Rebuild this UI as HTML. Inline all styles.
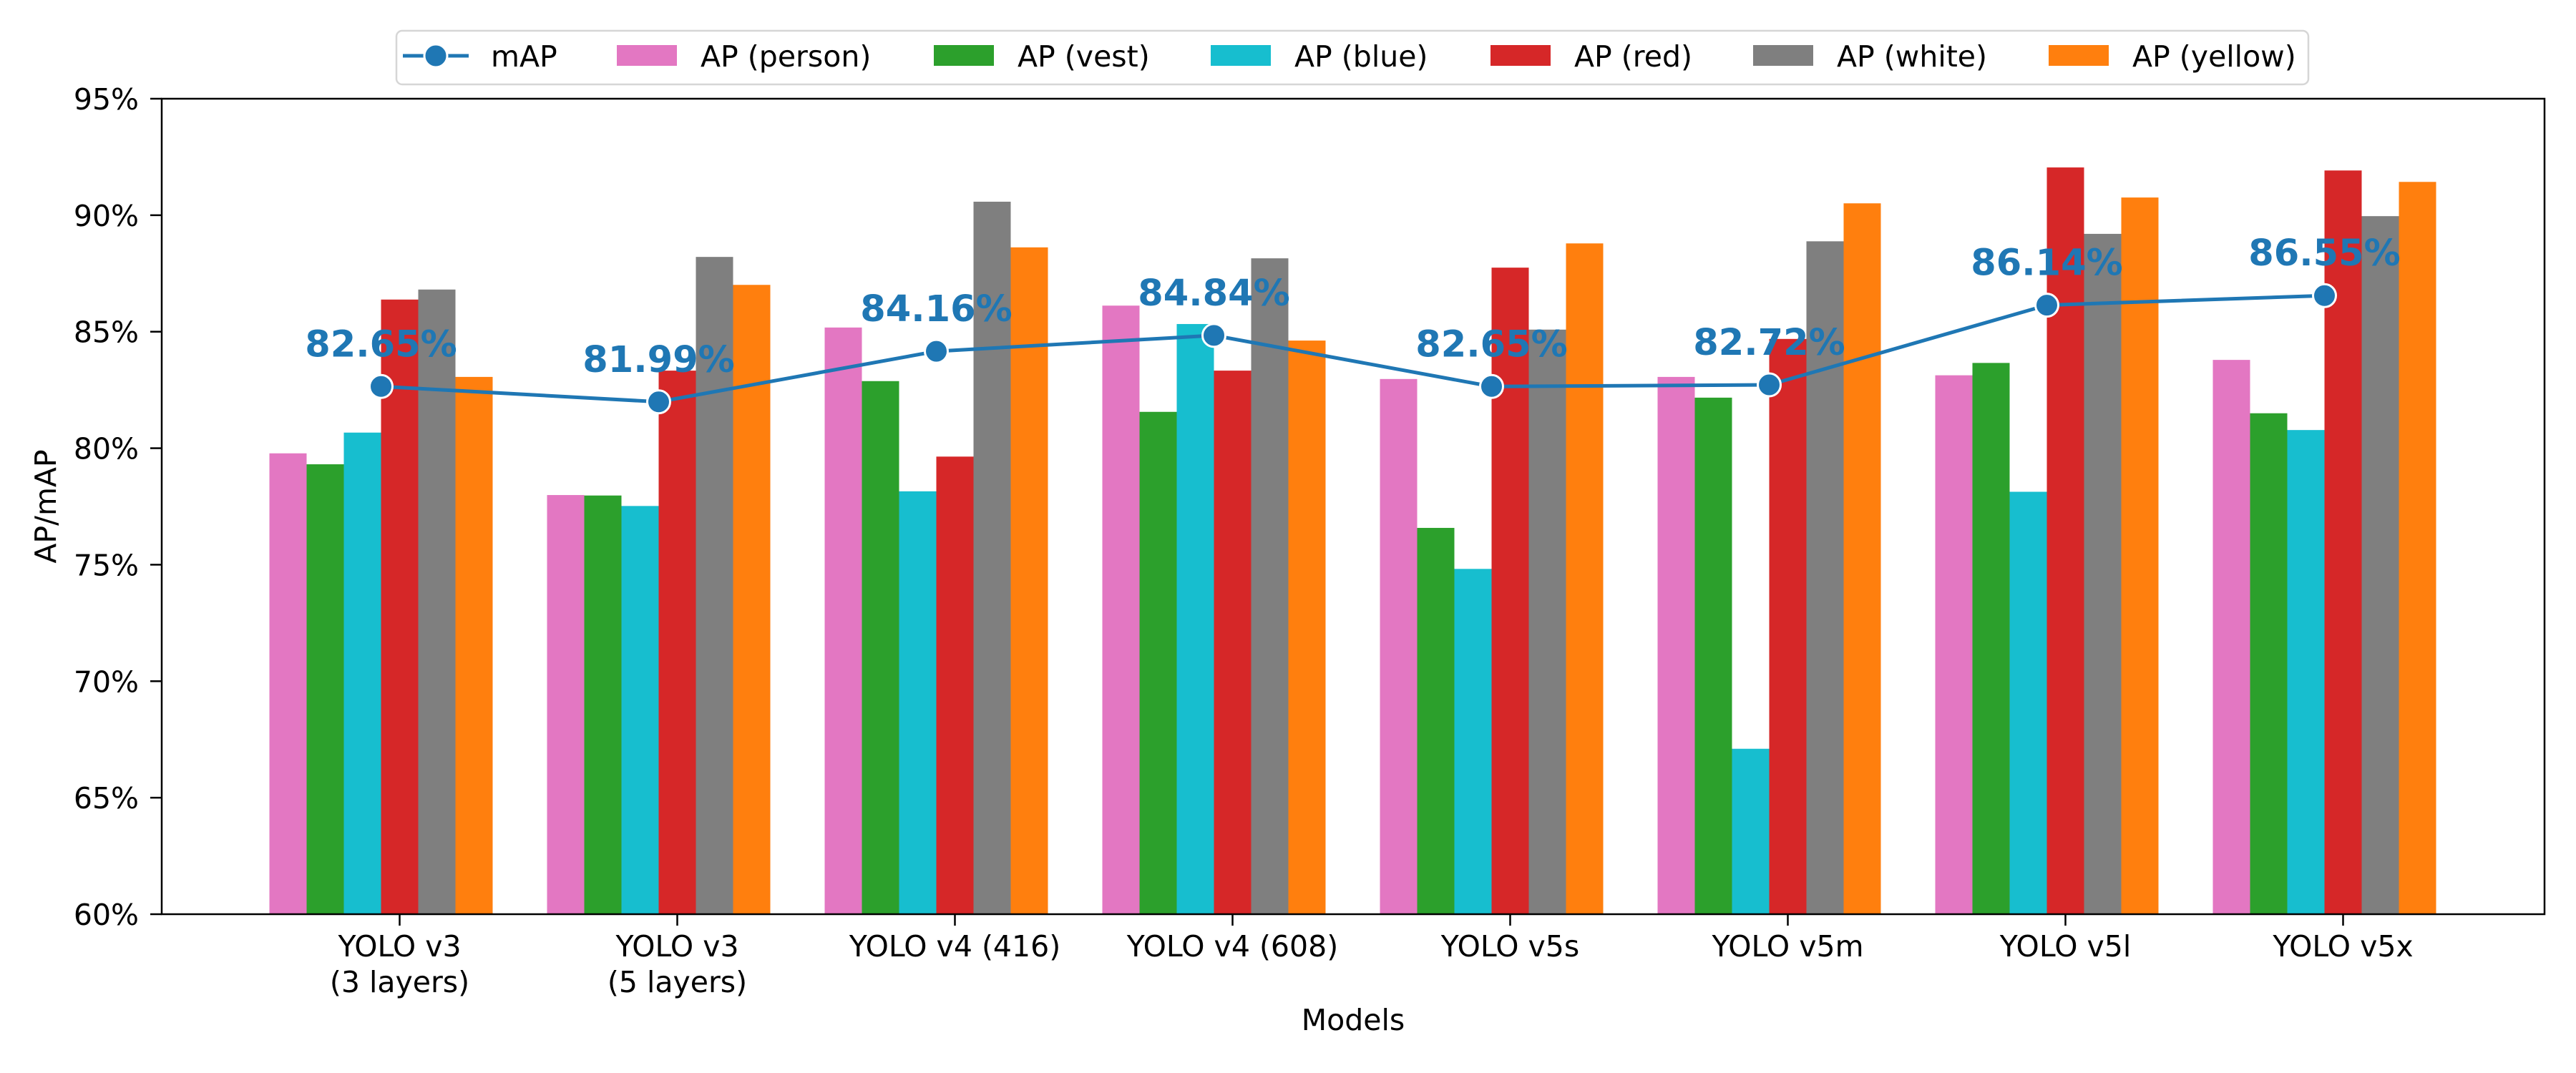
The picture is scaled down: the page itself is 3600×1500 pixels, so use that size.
<!DOCTYPE html>
<html><head><meta charset="utf-8"><style>
html,body{margin:0;padding:0;background:#fff;}
svg{display:block;font-family:"DejaVu Sans","Liberation Sans",sans-serif;}
</style></head><body>
<svg id="chart" width="3600" height="1500" viewBox="0 0 3600 1500" xmlns="http://www.w3.org/2000/svg">
<rect width="3600" height="1500" fill="#fff"/>
<g id="bars"></g>
<g id="line"></g>
<rect x="226" y="138" width="3330" height="1140" fill="none" stroke="#000" stroke-width="2.5"/>
<g id="yaxis"></g>
<g id="xaxis"></g>
<text x="78" y="708" font-size="41" text-anchor="middle" transform="rotate(-90 78 708)">AP/mAP</text>
<text x="1891" y="1440" font-size="41" text-anchor="middle">Models</text>
<g id="legend">
<rect x="554" y="43" width="2672" height="75" rx="8" fill="#fff" stroke="#d6d6d6" stroke-width="2.5"/>
</g>
</svg>
<script>
const categories = [["YOLO v3","(3 layers)"],["YOLO v3","(5 layers)"],["YOLO v4 (416)"],["YOLO v4 (608)"],["YOLO v5s"],["YOLO v5m"],["YOLO v5l"],["YOLO v5x"]];
const seriesNames = ["AP (person)","AP (vest)","AP (blue)","AP (red)","AP (white)","AP (yellow)"];
const seriesColors = ["#e377c2","#2ca02c","#17becf","#d62728","#7f7f7f","#ff7f0e"];
const apPerson = [79.78,77.99,85.18,86.12,82.97,83.06,83.13,83.79];
const apVest   = [79.31,77.97,82.88,81.56,76.58,82.17,83.66,81.50];
const apBlue   = [80.67,77.52,78.15,85.33,74.82,67.10,78.13,80.78];
const apRed    = [86.38,83.33,79.64,83.33,87.75,84.69,92.05,91.92];
const apWhite  = [86.81,88.21,90.58,88.15,85.09,88.88,89.20,89.96];
const apYellow = [83.06,87.01,88.62,84.62,88.79,90.51,90.76,91.43];
const mAP      = [82.65,81.99,84.16,84.84,82.65,82.72,86.14,86.55];
const yTicks   = [60,65,70,75,80,85,90,95];

const NS="http://www.w3.org/2000/svg";
function mk(tag,attrs,parent,text){const e=document.createElementNS(NS,tag);for(const k in attrs)e.setAttribute(k,attrs[k]);if(text!==undefined)e.textContent=text;parent.appendChild(e);return e;}
const PL=226,PR=3556,PT=138,PB=1278,YMIN=60,YMAX=95;
function yScale(v){return PB-(v-YMIN)/(YMAX-YMIN)*(PB-PT);}
const SP=388, X0=558.5, BW=52;
function xScale(i){return X0+i*SP;}

const series=[apPerson,apVest,apBlue,apRed,apWhite,apYellow];
const gb=document.getElementById('bars');
series.forEach((vals,s)=>{
  vals.forEach((v,i)=>{
    const x=xScale(i)+(s-3.5)*BW;
    const r=mk('rect',{x:x,y:yScale(v),width:BW,height:PB-yScale(v),fill:seriesColors[s]},gb);
    
    
  });
});

const gl=document.getElementById('line');
const pts=mAP.map((v,i)=>[xScale(i)-BW/2,yScale(v)]);
const pl=mk('polyline',{points:pts.map(p=>p.join(',')).join(' '),fill:'none',stroke:'#1f77b4','stroke-width':5},gl);


pts.forEach((p,i)=>{
  const c=mk('circle',{cx:p[0],cy:p[1],r:16,fill:'#1f77b4',stroke:'#fff','stroke-width':3},gl);
  
  
  const t=mk('text',{x:p[0],y:p[1]-42,'font-size':51,'font-weight':'bold',fill:'#1f77b4','text-anchor':'middle'},gl,mAP[i].toFixed(2)+'%');
  
  
});

const gy=document.getElementById('yaxis');
yTicks.forEach(v=>{
  const y=yScale(v);
  const l=mk('line',{x1:210,x2:226,y1:y,y2:y,stroke:'#000','stroke-width':2.5},gy);
  
  
  const t=mk('text',{x:194,y:y+15,'font-size':41,'text-anchor':'end'},gy,v+'%');
  
  
});

const gx=document.getElementById('xaxis');
categories.forEach((c,i)=>{
  const x=xScale(i);
  const l=mk('line',{x1:x,x2:x,y1:PB,y2:PB+16,stroke:'#000','stroke-width':2.5},gx);
  
  
  c.forEach((line,k)=>{
    const t=mk('text',{x:x,y:1337+k*50,'font-size':41,'text-anchor':'middle'},gx,line);
    
    
  });
});

const lg=document.getElementById('legend');
const ml=mk('line',{x1:563,x2:655,y1:78,y2:78,stroke:'#1f77b4','stroke-width':5},lg);


const mc=mk('circle',{cx:609,cy:78,r:16,fill:'#1f77b4',stroke:'#fff','stroke-width':3},lg);


const mt=mk('text',{x:686,y:93,'font-size':41},lg,'mAP');


const patchX=[862,1305,1692,2083,2450,2863];
seriesNames.forEach((n,s)=>{
  const r=mk('rect',{x:patchX[s],y:63,width:84,height:29,fill:seriesColors[s]},lg);
  
  
  const t=mk('text',{x:patchX[s]+117,y:93,'font-size':41},lg,n);
  
  
});
</script>
</body></html>
